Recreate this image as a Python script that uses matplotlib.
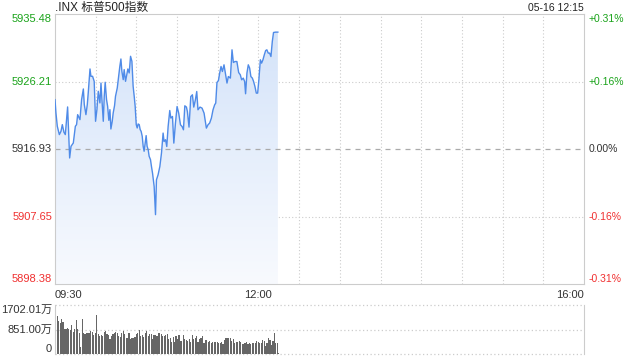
import numpy as np
import matplotlib
matplotlib.use("Agg")
import matplotlib.pyplot as plt
from matplotlib.colors import LinearSegmentedColormap
from matplotlib.patches import PathPatch
from matplotlib.transforms import blended_transform_factory

plt.rcParams['font.family'] = ['Liberation Sans', 'Noto Sans CJK SC', 'DejaVu Sans']

# S&P 500 intraday, minutes after 09:30
minutes = [0.0, 0.7, 1.7, 3.2, 4.4, 5.4, 6.6, 7.6, 8.6, 9.3, 10.1, 10.8, 11.8, 13.5, 15.0,
           15.9, 16.7, 18.4, 19.6, 20.9, 21.6, 22.8, 23.8, 24.5, 25.8, 26.5, 27.7, 28.9, 29.9,
           30.9, 31.9, 33.1, 33.9, 34.6, 35.6, 36.3, 37.0, 38.0, 38.8, 39.7, 40.5, 41.2, 42.2,
           42.9, 43.9, 44.6, 45.9, 46.9, 47.8, 48.6, 49.3, 50.3, 51.0, 52.0, 52.7, 53.7, 54.7,
           55.7, 56.7, 57.6, 58.4, 59.1, 59.9, 60.6, 61.3, 62.1, 62.8, 63.5, 64.3, 65.0, 65.7,
           66.5, 67.2, 67.9, 68.7, 69.4, 70.4, 71.1, 71.9, 73.1, 74.1, 74.8, 76.0, 77.3, 78.5,
           79.7, 80.4, 81.5, 82.4, 83.4, 84.6, 85.4, 86.6, 87.6, 88.8, 90.0, 91.2, 92.5, 93.7,
           94.7, 95.7, 96.9, 97.6, 98.8, 100.1, 101.3, 102.3, 103.5, 104.5, 105.4, 106.9, 108.4,
           109.9, 111.6, 112.8, 114.0, 115.3, 116.5, 117.7, 118.5, 119.4, 120.5, 121.4, 122.4,
           123.4, 124.6, 125.6, 126.8, 127.8, 129.3, 130.5, 131.5, 132.7, 134.1, 135.4, 136.6,
           137.6, 138.8, 139.8, 140.5, 141.5, 142.5, 143.5, 144.4, 145.5, 146.4, 147.4, 148.4,
           149.4, 150.3, 151.4, 152.3, 153.3, 154.3, 155.3, 156.2, 157.2, 158.2, 159.2, 160.2,
           161.1, 162.6, 164.3]
prices = [5923.75, 5921.92, 5920.09, 5918.95, 5919.40, 5920.32, 5919.27, 5918.95, 5921.24,
          5922.75, 5919.17, 5915.74, 5917.34, 5917.80, 5920.09, 5920.32, 5921.69, 5921.01,
          5923.75, 5925.22, 5923.07, 5921.69, 5923.07, 5924.67, 5927.97, 5926.96, 5926.96,
          5926.27, 5920.78, 5922.38, 5924.90, 5923.30, 5926.04, 5923.75, 5920.78, 5924.21,
          5926.14, 5923.75, 5922.84, 5920.91, 5922.38, 5919.72, 5920.78, 5921.92, 5922.93,
          5924.21, 5925.36, 5926.96, 5928.33, 5929.34, 5927.65, 5926.50, 5927.88, 5926.27,
          5926.96, 5927.97, 5927.42, 5929.71, 5929.02, 5925.59, 5924.21, 5922.84, 5920.32,
          5919.86, 5920.41, 5920.32, 5919.63, 5919.40, 5918.72, 5917.34, 5916.66, 5917.80,
          5918.81, 5917.34, 5916.88, 5915.97, 5915.51, 5914.59, 5913.66, 5911.82, 5907.95,
          5912.74, 5913.43, 5914.57, 5916.41, 5919.16, 5918.00, 5918.24, 5917.31, 5920.06,
          5922.26, 5921.22, 5921.44, 5917.78, 5920.53, 5922.81, 5921.90, 5920.30, 5920.06,
          5919.61, 5922.91, 5922.73, 5922.12, 5919.98, 5924.18, 5924.42, 5922.73, 5923.73,
          5924.87, 5922.36, 5922.73, 5922.59, 5921.90, 5919.84, 5920.30, 5920.53, 5921.22,
          5922.36, 5923.04, 5923.28, 5926.11, 5926.38, 5927.40, 5928.31, 5927.62, 5928.54,
          5927.40, 5926.03, 5926.93, 5926.71, 5930.60, 5928.86, 5928.99, 5928.99, 5927.48,
          5927.17, 5926.48, 5926.71, 5926.25, 5924.56, 5927.40, 5928.54, 5928.09, 5926.93,
          5926.71, 5926.25, 5925.56, 5924.65, 5924.65, 5926.48, 5929.23, 5928.77, 5929.23,
          5929.91, 5930.50, 5930.60, 5930.15, 5930.15, 5929.68, 5931.74, 5932.98, 5933.03,
          5933.03]

# volume per bar, in 万
volume = [1702, 1320, 1146, 1088, 1204, 1111, 857, 880, 903, 857, 834, 1007, 776, 857, 1181,
          857, 718, 255, 1216, 718, 683, 741, 741, 741, 799, 753, 660, 718, 1355, 695, 625,
          660, 637, 776, 799, 683, 660, 509, 625, 683, 741, 764, 741, 625, 579, 741, 811, 695,
          567, 567, 741, 509, 544, 544, 602, 683, 741, 834, 625, 660, 602, 741, 811, 625, 695,
          683, 509, 660, 660, 625, 718, 718, 683, 625, 625, 648, 683, 509, 567, 428,
          602, 428, 625, 509, 660, 463, 463, 660, 509, 486, 463, 509, 428, 660, 509, 544, 625,
          428, 509, 567, 625, 394, 486, 486, 428, 452, 370, 428, 428, 405, 405, 370, 394, 428,
          347, 486, 544, 544, 544, 544, 452, 509, 370, 428, 428, 452, 428, 347, 336, 370, 405,
          336, 394, 347, 370, 394, 370, 452, 405, 370, 394, 486, 452, 289, 394, 544, 486, 313,
          452, 741, 394, 370, 20]

prev_close = 5916.93
price_ticks = [5935.48, 5926.21, 5916.93, 5907.65, 5898.38]
pct_labels = ['+0.31%', '+0.16%', '0.00%', '-0.16%', '-0.31%']
time_labels = ['09:30', '12:00', '16:00']
time_ticks = [0, 150, 390]
vol_max = 1702.01
vol_labels = ['1702.01万', '851.00万', '0']

green = '#1aa31a'
red = '#f03030'
dark = '#333333'
label_colors = [green, green, dark, red, red]
grid_c = '#cccccc'

fig = plt.figure(figsize=(6.4, 3.6), dpi=100)
ax = fig.add_axes([55 / 640, 1 - 284.3 / 360, 529 / 640, 270 / 360])
vax = fig.add_axes([55 / 640, 1 - 354 / 360, 529 / 640, 49 / 360])

ymin, ymax = price_ticks[-1], price_ticks[0]
ax.set_xlim(0, 390)
ax.set_ylim(ymin, ymax)

# gradient area under the line
poly = ax.fill_between(minutes, prices, ymin, color='none', lw=0)
grad = np.linspace(0, 1, 256).reshape(-1, 1)
cmap = LinearSegmentedColormap.from_list('area', ['#f8fafe', '#d2e2f9'])
im = ax.imshow(grad, extent=[minutes[0], minutes[-1], ymin, ymax], origin='lower',
               aspect='auto', cmap=cmap, zorder=1)
clip = PathPatch(poly.get_paths()[0], transform=ax.transData, facecolor='none', edgecolor='none')
ax.add_patch(clip)
im.set_clip_path(clip)
ax.set_xlim(0, 390)
ax.set_ylim(ymin, ymax)

ax.plot(minutes, prices, color='#4f8be8', lw=1.0, zorder=3)

for t in range(30, 390, 30):
    ax.axvline(t, color=grid_c, ls=(0, (1, 2)), lw=0.8, zorder=0)
for p in price_ticks[1:-1]:
    if p == prev_close:
        ax.axhline(p, color='#aaaaaa', ls=(0, (4, 4)), lw=0.9, zorder=2)
    else:
        ax.axhline(p, color=grid_c, ls=(0, (1, 2)), lw=0.8, zorder=0)

for s in ax.spines.values():
    s.set_color(grid_c)
    s.set_linewidth(0.8)
ax.set_xticks([])
ax.set_yticks([])

tl = blended_transform_factory(fig.transFigure, ax.transData)
for i, (p, c) in enumerate(zip(price_ticks, label_colors)):
    va = 'top' if i == 0 else ('bottom' if i == len(price_ticks) - 1 else 'center')
    ax.text(52 / 640, p, f'{p:.2f}', transform=tl, ha='right', va=va, color=c, fontsize=8)
    ax.text(589 / 640, p, pct_labels[i], transform=tl, ha='left', va=va, color=c, fontsize=7.5)

for t, lab, ha in zip(time_ticks, time_labels, ['left', 'center', 'right']):
    ax.text(t, -0.022, lab, transform=ax.get_xaxis_transform(), ha=ha, va='top',
            color=dark, fontsize=8)

fig.text(55 / 640, 1 - 8 / 360, '.INX 标普500指数', ha='left', va='center', color='#222222',
         fontsize=8.5)
fig.text(584 / 640, 1 - 8 / 360, '05-16 12:15', ha='right', va='center', color='#222222',
         fontsize=7.5)
ax.text(573, ymin + 0.4, 'sina.com', ha='right', va='bottom', color='#d0d0d0', fontsize=7.5)

# volume panel
bar_x = np.linspace(minutes[0] + 0.5, minutes[-1] + 0.7, len(volume))
vax.bar(bar_x, volume, width=0.85, color='#666666', align='center', zorder=2)
vax.set_xlim(0, 390)
vax.set_ylim(0, vol_max)
for v in [vol_max, vol_max / 2, 0]:
    vax.axhline(v, color=grid_c, ls=(0, (1, 2)), lw=0.9, zorder=0, clip_on=False)
for side in ['top', 'bottom']:
    vax.spines[side].set_visible(False)
for side in ['left', 'right']:
    vax.spines[side].set_color(grid_c)
    vax.spines[side].set_linewidth(0.8)
vax.set_xticks([])
vax.set_yticks([])

vl = blended_transform_factory(fig.transFigure, vax.transData)
for v, lab, va in zip([vol_max, vol_max / 2, 0], vol_labels, ['top', 'center', 'bottom']):
    vax.text(52 / 640, v, lab, transform=vl, ha='right', va=va, color=dark, fontsize=8)

fig.savefig('out.png', dpi=100)
